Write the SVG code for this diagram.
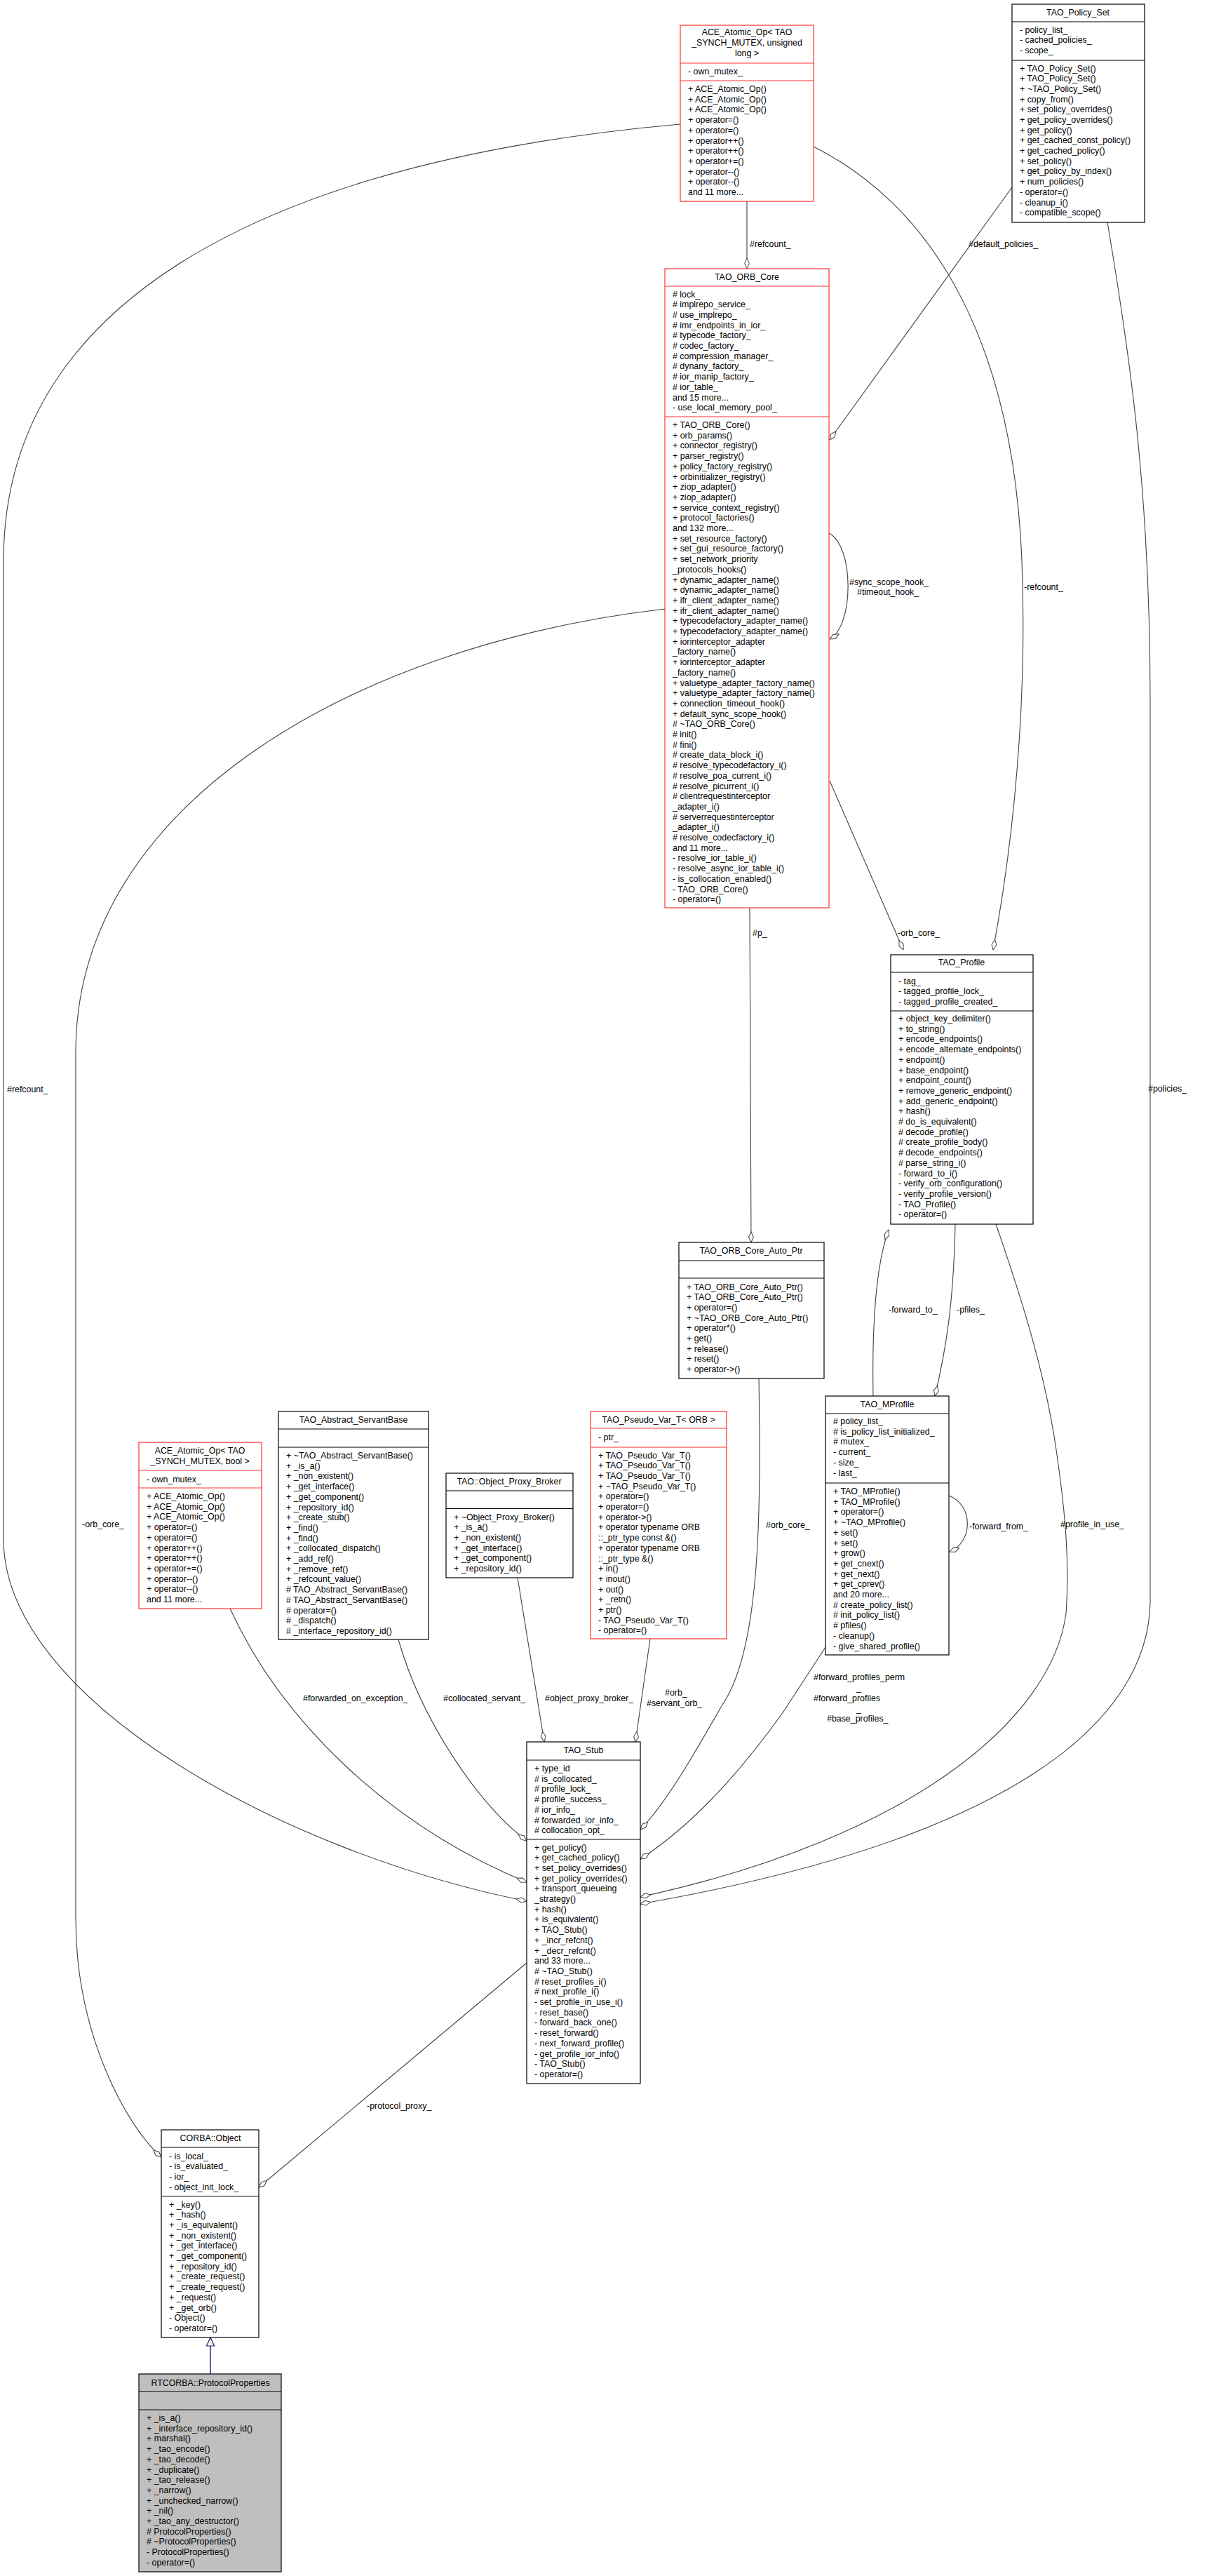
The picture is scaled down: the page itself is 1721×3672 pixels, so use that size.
<svg xmlns="http://www.w3.org/2000/svg" width="1721" height="3672" viewBox="0 0 1721 3672">
<defs>
<style>
text{font-family:"Liberation Sans",Arial,sans-serif;font-size:12.4px;fill:#000}
.t{text-anchor:middle}
.box{fill:#fff;stroke:#000;stroke-width:1.2}
.red{fill:#fff;stroke:#ff3030;stroke-width:1.2}
.sel{fill:#bfbfbf;stroke:#000;stroke-width:1.2}
.sk{stroke:#000;stroke-width:1.2}
.skr{stroke:#ff3030;stroke-width:1.2}
.c{fill:none;stroke:#404040;stroke-width:1.1}
</style>
<marker id="dia" viewBox="0 0 16 8" refX="15.5" refY="4" markerWidth="16" markerHeight="8" markerUnits="userSpaceOnUse" orient="auto"><path d="M0.5,4 L8,0.6 L15.5,4 L8,7.4 Z" fill="#fff" stroke="#404040" stroke-width="1"/></marker>
<marker id="tri" viewBox="0 0 14 14" refX="13" refY="7" markerWidth="14" markerHeight="14" markerUnits="userSpaceOnUse" orient="auto"><path d="M1,1.5 L13,7 L1,12.5 Z" fill="#fff" stroke="#191970" stroke-width="1.2"/></marker>
</defs>
<rect width="1721" height="3672" fill="#fff"/>

<g id="connectors">
<path class="c" marker-end="url(#dia)" d="M1065,287 L1065,383"/>
<path class="c" marker-end="url(#dia)" d="M1443,267 L1183,627"/>
<path class="c" marker-end="url(#dia)" d="M1182,760 C1218,778 1218,892 1183,911"/>
<path class="c" marker-end="url(#dia)" d="M1160,209 C1340,300 1445,500 1457,800 C1465,1000 1445,1200 1416,1354"/>
<path class="c" marker-end="url(#dia)" d="M1183,1113 L1288,1354"/>
<path class="c" marker-end="url(#dia)" d="M1069,1294 L1071,1771"/>
<path class="c" marker-end="url(#dia)" d="M1245,1990 C1243,1880 1250,1800 1267,1753"/>
<path class="c" marker-end="url(#dia)" d="M1362,1745 C1360,1850 1350,1920 1333,1990"/>
<path class="c" marker-end="url(#dia)" d="M1353,2132 C1388,2145 1388,2198 1354,2212"/>
<path class="c" marker-end="url(#dia)" d="M1420,1745 C1460,1860 1490,1960 1505,2060 C1520,2160 1525,2230 1520,2300 C1500,2450 1300,2620 913,2704"/>
<path class="c" marker-end="url(#dia)" d="M1579,317 C1610,500 1640,700 1640,1000 L1640,2280 C1640,2450 1450,2620 913,2714"/>
<path class="c" marker-end="url(#dia)" d="M1082,1965 C1085,2150 1085,2350 1030,2430 C990,2500 950,2570 913,2608"/>
<path class="c" marker-end="url(#dia)" d="M1177,2348 L1117,2440 C1060,2520 990,2600 913,2650"/>
<path class="c" marker-end="url(#dia)" d="M927,2336 L906,2483"/>
<path class="c" marker-end="url(#dia)" d="M738,2249 L776,2483"/>
<path class="c" marker-end="url(#dia)" d="M568,2337 C600,2450 680,2570 751,2624"/>
<path class="c" marker-end="url(#dia)" d="M328,2293 C400,2450 550,2600 751,2683"/>
<path class="c" marker-end="url(#dia)" d="M970,177 C600,210 5,330 5,800 L5,2194 C5,2420 400,2640 751,2710"/>
<path class="c" marker-end="url(#dia)" d="M948,868 C500,920 108,1150 108,1500 L108,2735 C108,2900 180,3030 230,3075"/>
<path class="c" marker-end="url(#dia)" d="M751,2798 L369,3118"/>
<path fill="none" stroke="#191970" stroke-width="1.4" marker-end="url(#tri)" d="M300,3384 L300,3332"/>
<text x="1069" y="352">#refcount_</text>
<text x="1381" y="352">#default_policies_</text>
<text x="1211" y="834">#sync_scope_hook_</text>
<text x="1222" y="848">#timeout_hook_</text>
<text x="1460" y="841">-refcount_</text>
<text x="1280" y="1334">-orb_core_</text>
<text x="1073" y="1334">#p_</text>
<text x="1267" y="1871">-forward_to_</text>
<text x="1364" y="1871">-pfiles_</text>
<text x="1382" y="2180">-forward_from_</text>
<text x="1512" y="2177">#profile_in_use_</text>
<text x="1637" y="1556">#policies_</text>
<text x="1092" y="2178">#orb_core_</text>
<text x="1160" y="2395">#forward_profiles_perm</text>
<text x="1221" y="2410">_</text>
<text x="1160" y="2425">#forward_profiles</text>
<text x="1221" y="2440">_</text>
<text x="1179" y="2454">#base_profiles_</text>
<text x="948" y="2417">#orb_</text>
<text x="922" y="2432">#servant_orb_</text>
<text x="432" y="2425">#forwarded_on_exception_</text>
<text x="632" y="2425">#collocated_servant_</text>
<text x="777" y="2425">#object_proxy_broker_</text>
<text x="10" y="1557">#refcount_</text>
<text x="117" y="2177">-orb_core_</text>
<text x="523" y="3006">-protocol_proxy_</text>
</g>

<g id="ace_ulong">
<rect class="red" x="970" y="36" width="190" height="251"/>
<line class="skr" x1="970" y1="90" x2="1160" y2="90"/><line class="skr" x1="970" y1="115" x2="1160" y2="115"/>
<text class="t" x="1065" y="50">ACE_Atomic_Op&lt; TAO</text>
<text class="t" x="1065" y="65">_SYNCH_MUTEX, unsigned</text>
<text class="t" x="1065" y="80">long &gt;</text>
<text x="981" y="106">- own_mutex_</text>
<text x="981" y="131">+ ACE_Atomic_Op()<tspan x="981" dy="14.7">+ ACE_Atomic_Op()</tspan><tspan x="981" dy="14.7">+ ACE_Atomic_Op()</tspan><tspan x="981" dy="14.7">+ operator=()</tspan><tspan x="981" dy="14.7">+ operator=()</tspan><tspan x="981" dy="14.7">+ operator++()</tspan><tspan x="981" dy="14.7">+ operator++()</tspan><tspan x="981" dy="14.7">+ operator+=()</tspan><tspan x="981" dy="14.7">+ operator--()</tspan><tspan x="981" dy="14.7">+ operator--()</tspan><tspan x="981" dy="14.7">and 11 more...</tspan></text>
</g>

<g id="policy_set">
<rect class="box" x="1443" y="6" width="189" height="311"/>
<line class="sk" x1="1443" y1="31" x2="1632" y2="31"/><line class="sk" x1="1443" y1="86" x2="1632" y2="86"/>
<text class="t" x="1537" y="22">TAO_Policy_Set</text>
<text x="1454" y="46.5">- policy_list_<tspan x="1454" dy="14.7">- cached_policies_</tspan><tspan x="1454" dy="14.7">- scope_</tspan></text>
<text x="1454" y="101.5">+ TAO_Policy_Set()<tspan x="1454" dy="14.7">+ TAO_Policy_Set()</tspan><tspan x="1454" dy="14.7">+ ~TAO_Policy_Set()</tspan><tspan x="1454" dy="14.7">+ copy_from()</tspan><tspan x="1454" dy="14.7">+ set_policy_overrides()</tspan><tspan x="1454" dy="14.7">+ get_policy_overrides()</tspan><tspan x="1454" dy="14.7">+ get_policy()</tspan><tspan x="1454" dy="14.7">+ get_cached_const_policy()</tspan><tspan x="1454" dy="14.7">+ get_cached_policy()</tspan><tspan x="1454" dy="14.7">+ set_policy()</tspan><tspan x="1454" dy="14.7">+ get_policy_by_index()</tspan><tspan x="1454" dy="14.7">+ num_policies()</tspan><tspan x="1454" dy="14.7">- operator=()</tspan><tspan x="1454" dy="14.7">- cleanup_i()</tspan><tspan x="1454" dy="14.7">- compatible_scope()</tspan></text>
</g>

<g id="orb_core">
<rect class="red" x="948" y="383" width="234" height="911"/>
<line class="skr" x1="948" y1="408" x2="1182" y2="408"/><line class="skr" x1="948" y1="594" x2="1182" y2="594"/>
<text class="t" x="1065" y="399">TAO_ORB_Core</text>
<text x="959" y="423.5"># lock_<tspan x="959" dy="14.7"># implrepo_service_</tspan><tspan x="959" dy="14.7"># use_implrepo_</tspan><tspan x="959" dy="14.7"># imr_endpoints_in_ior_</tspan><tspan x="959" dy="14.7"># typecode_factory_</tspan><tspan x="959" dy="14.7"># codec_factory_</tspan><tspan x="959" dy="14.7"># compression_manager_</tspan><tspan x="959" dy="14.7"># dynany_factory_</tspan><tspan x="959" dy="14.7"># ior_manip_factory_</tspan><tspan x="959" dy="14.7"># ior_table_</tspan><tspan x="959" dy="14.7">and 15 more...</tspan><tspan x="959" dy="14.7">- use_local_memory_pool_</tspan></text>
<text x="959" y="610">+ TAO_ORB_Core()<tspan x="959" dy="14.7">+ orb_params()</tspan><tspan x="959" dy="14.7">+ connector_registry()</tspan><tspan x="959" dy="14.7">+ parser_registry()</tspan><tspan x="959" dy="14.7">+ policy_factory_registry()</tspan><tspan x="959" dy="14.7">+ orbinitializer_registry()</tspan><tspan x="959" dy="14.7">+ ziop_adapter()</tspan><tspan x="959" dy="14.7">+ ziop_adapter()</tspan><tspan x="959" dy="14.7">+ service_context_registry()</tspan><tspan x="959" dy="14.7">+ protocol_factories()</tspan><tspan x="959" dy="14.7">and 132 more...</tspan><tspan x="959" dy="14.7">+ set_resource_factory()</tspan><tspan x="959" dy="14.7">+ set_gui_resource_factory()</tspan><tspan x="959" dy="14.7">+ set_network_priority</tspan><tspan x="959" dy="14.7">_protocols_hooks()</tspan><tspan x="959" dy="14.7">+ dynamic_adapter_name()</tspan><tspan x="959" dy="14.7">+ dynamic_adapter_name()</tspan><tspan x="959" dy="14.7">+ ifr_client_adapter_name()</tspan><tspan x="959" dy="14.7">+ ifr_client_adapter_name()</tspan><tspan x="959" dy="14.7">+ typecodefactory_adapter_name()</tspan><tspan x="959" dy="14.7">+ typecodefactory_adapter_name()</tspan><tspan x="959" dy="14.7">+ iorinterceptor_adapter</tspan><tspan x="959" dy="14.7">_factory_name()</tspan><tspan x="959" dy="14.7">+ iorinterceptor_adapter</tspan><tspan x="959" dy="14.7">_factory_name()</tspan><tspan x="959" dy="14.7">+ valuetype_adapter_factory_name()</tspan><tspan x="959" dy="14.7">+ valuetype_adapter_factory_name()</tspan><tspan x="959" dy="14.7">+ connection_timeout_hook()</tspan><tspan x="959" dy="14.7">+ default_sync_scope_hook()</tspan><tspan x="959" dy="14.7"># ~TAO_ORB_Core()</tspan><tspan x="959" dy="14.7"># init()</tspan><tspan x="959" dy="14.7"># fini()</tspan><tspan x="959" dy="14.7"># create_data_block_i()</tspan><tspan x="959" dy="14.7"># resolve_typecodefactory_i()</tspan><tspan x="959" dy="14.7"># resolve_poa_current_i()</tspan><tspan x="959" dy="14.7"># resolve_picurrent_i()</tspan><tspan x="959" dy="14.7"># clientrequestinterceptor</tspan><tspan x="959" dy="14.7">_adapter_i()</tspan><tspan x="959" dy="14.7"># serverrequestinterceptor</tspan><tspan x="959" dy="14.7">_adapter_i()</tspan><tspan x="959" dy="14.7"># resolve_codecfactory_i()</tspan><tspan x="959" dy="14.7">and 11 more...</tspan><tspan x="959" dy="14.7">- resolve_ior_table_i()</tspan><tspan x="959" dy="14.7">- resolve_async_ior_table_i()</tspan><tspan x="959" dy="14.7">- is_collocation_enabled()</tspan><tspan x="959" dy="14.7">- TAO_ORB_Core()</tspan><tspan x="959" dy="14.7">- operator=()</tspan></text>
</g>

<g id="tao_profile">
<rect class="box" x="1270" y="1361" width="203" height="384"/>
<line class="sk" x1="1270" y1="1386" x2="1473" y2="1386"/><line class="sk" x1="1270" y1="1441" x2="1473" y2="1441"/>
<text class="t" x="1371" y="1376">TAO_Profile</text>
<text x="1281" y="1402.5">- tag_<tspan x="1281" dy="14.7">- tagged_profile_lock_</tspan><tspan x="1281" dy="14.7">- tagged_profile_created_</tspan></text>
<text x="1281" y="1456">+ object_key_delimiter()<tspan x="1281" dy="14.7">+ to_string()</tspan><tspan x="1281" dy="14.7">+ encode_endpoints()</tspan><tspan x="1281" dy="14.7">+ encode_alternate_endpoints()</tspan><tspan x="1281" dy="14.7">+ endpoint()</tspan><tspan x="1281" dy="14.7">+ base_endpoint()</tspan><tspan x="1281" dy="14.7">+ endpoint_count()</tspan><tspan x="1281" dy="14.7">+ remove_generic_endpoint()</tspan><tspan x="1281" dy="14.7">+ add_generic_endpoint()</tspan><tspan x="1281" dy="14.7">+ hash()</tspan><tspan x="1281" dy="14.7"># do_is_equivalent()</tspan><tspan x="1281" dy="14.7"># decode_profile()</tspan><tspan x="1281" dy="14.7"># create_profile_body()</tspan><tspan x="1281" dy="14.7"># decode_endpoints()</tspan><tspan x="1281" dy="14.7"># parse_string_i()</tspan><tspan x="1281" dy="14.7">- forward_to_i()</tspan><tspan x="1281" dy="14.7">- verify_orb_configuration()</tspan><tspan x="1281" dy="14.7">- verify_profile_version()</tspan><tspan x="1281" dy="14.7">- TAO_Profile()</tspan><tspan x="1281" dy="14.7">- operator=()</tspan></text>
</g>

<g id="tao_mprofile">
<rect class="box" x="1177" y="1990" width="176" height="369"/>
<line class="sk" x1="1177" y1="2015" x2="1353" y2="2015"/><line class="sk" x1="1177" y1="2114" x2="1353" y2="2114"/>
<text class="t" x="1265" y="2006">TAO_MProfile</text>
<text x="1188" y="2030"># policy_list_<tspan x="1188" dy="14.7"># is_policy_list_initialized_</tspan><tspan x="1188" dy="14.7"># mutex_</tspan><tspan x="1188" dy="14.7">- current_</tspan><tspan x="1188" dy="14.7">- size_</tspan><tspan x="1188" dy="14.7">- last_</tspan></text>
<text x="1188" y="2130">+ TAO_MProfile()<tspan x="1188" dy="14.7">+ TAO_MProfile()</tspan><tspan x="1188" dy="14.7">+ operator=()</tspan><tspan x="1188" dy="14.7">+ ~TAO_MProfile()</tspan><tspan x="1188" dy="14.7">+ set()</tspan><tspan x="1188" dy="14.7">+ set()</tspan><tspan x="1188" dy="14.7">+ grow()</tspan><tspan x="1188" dy="14.7">+ get_cnext()</tspan><tspan x="1188" dy="14.7">+ get_next()</tspan><tspan x="1188" dy="14.7">+ get_cprev()</tspan><tspan x="1188" dy="14.7">and 20 more...</tspan><tspan x="1188" dy="14.7"># create_policy_list()</tspan><tspan x="1188" dy="14.7"># init_policy_list()</tspan><tspan x="1188" dy="14.7"># pfiles()</tspan><tspan x="1188" dy="14.7">- cleanup()</tspan><tspan x="1188" dy="14.7">- give_shared_profile()</tspan></text>
</g>

<g id="auto_ptr">
<rect class="box" x="968" y="1771" width="207" height="194"/>
<line class="sk" x1="968" y1="1797" x2="1175" y2="1797"/><line class="sk" x1="968" y1="1822" x2="1175" y2="1822"/>
<text class="t" x="1071" y="1786.5">TAO_ORB_Core_Auto_Ptr</text>
<text x="979" y="1838.5">+ TAO_ORB_Core_Auto_Ptr()<tspan x="979" dy="14.7">+ TAO_ORB_Core_Auto_Ptr()</tspan><tspan x="979" dy="14.7">+ operator=()</tspan><tspan x="979" dy="14.7">+ ~TAO_ORB_Core_Auto_Ptr()</tspan><tspan x="979" dy="14.7">+ operator*()</tspan><tspan x="979" dy="14.7">+ get()</tspan><tspan x="979" dy="14.7">+ release()</tspan><tspan x="979" dy="14.7">+ reset()</tspan><tspan x="979" dy="14.7">+ operator-&gt;()</tspan></text>
</g>

<g id="pseudo_var">
<rect class="red" x="842" y="2012" width="194" height="324"/>
<line class="skr" x1="842" y1="2036" x2="1036" y2="2036"/><line class="skr" x1="842" y1="2063" x2="1036" y2="2063"/>
<text class="t" x="939" y="2027.5">TAO_Pseudo_Var_T&lt; ORB &gt;</text>
<text x="853" y="2052.5">- ptr_</text>
<text x="853" y="2078.5">+ TAO_Pseudo_Var_T()<tspan x="853" dy="14.7">+ TAO_Pseudo_Var_T()</tspan><tspan x="853" dy="14.7">+ TAO_Pseudo_Var_T()</tspan><tspan x="853" dy="14.7">+ ~TAO_Pseudo_Var_T()</tspan><tspan x="853" dy="14.7">+ operator=()</tspan><tspan x="853" dy="14.7">+ operator=()</tspan><tspan x="853" dy="14.7">+ operator-&gt;()</tspan><tspan x="853" dy="14.7">+ operator typename ORB</tspan><tspan x="853" dy="14.7">::_ptr_type const &amp;()</tspan><tspan x="853" dy="14.7">+ operator typename ORB</tspan><tspan x="853" dy="14.7">::_ptr_type &amp;()</tspan><tspan x="853" dy="14.7">+ in()</tspan><tspan x="853" dy="14.7">+ inout()</tspan><tspan x="853" dy="14.7">+ out()</tspan><tspan x="853" dy="14.7">+ _retn()</tspan><tspan x="853" dy="14.7">+ ptr()</tspan><tspan x="853" dy="14.7">- TAO_Pseudo_Var_T()</tspan><tspan x="853" dy="14.7">- operator=()</tspan></text>
</g>

<g id="servant_base">
<rect class="box" x="397" y="2012" width="214" height="325"/>
<line class="sk" x1="397" y1="2037" x2="611" y2="2037"/><line class="sk" x1="397" y1="2063" x2="611" y2="2063"/>
<text class="t" x="504" y="2027.5">TAO_Abstract_ServantBase</text>
<text x="408" y="2079">+ ~TAO_Abstract_ServantBase()<tspan x="408" dy="14.7">+ _is_a()</tspan><tspan x="408" dy="14.7">+ _non_existent()</tspan><tspan x="408" dy="14.7">+ _get_interface()</tspan><tspan x="408" dy="14.7">+ _get_component()</tspan><tspan x="408" dy="14.7">+ _repository_id()</tspan><tspan x="408" dy="14.7">+ _create_stub()</tspan><tspan x="408" dy="14.7">+ _find()</tspan><tspan x="408" dy="14.7">+ _find()</tspan><tspan x="408" dy="14.7">+ _collocated_dispatch()</tspan><tspan x="408" dy="14.7">+ _add_ref()</tspan><tspan x="408" dy="14.7">+ _remove_ref()</tspan><tspan x="408" dy="14.7">+ _refcount_value()</tspan><tspan x="408" dy="14.7"># TAO_Abstract_ServantBase()</tspan><tspan x="408" dy="14.7"># TAO_Abstract_ServantBase()</tspan><tspan x="408" dy="14.7"># operator=()</tspan><tspan x="408" dy="14.7"># _dispatch()</tspan><tspan x="408" dy="14.7"># _interface_repository_id()</tspan></text>
</g>

<g id="proxy_broker">
<rect class="box" x="636" y="2100" width="181" height="149"/>
<line class="sk" x1="636" y1="2125" x2="817" y2="2125"/><line class="sk" x1="636" y1="2150.5" x2="817" y2="2150.5"/>
<text class="t" x="726" y="2116">TAO::Object_Proxy_Broker</text>
<text x="647" y="2166.5">+ ~Object_Proxy_Broker()<tspan x="647" dy="14.7">+ _is_a()</tspan><tspan x="647" dy="14.7">+ _non_existent()</tspan><tspan x="647" dy="14.7">+ _get_interface()</tspan><tspan x="647" dy="14.7">+ _get_component()</tspan><tspan x="647" dy="14.7">+ _repository_id()</tspan></text>
</g>

<g id="ace_bool">
<rect class="red" x="198" y="2056" width="175" height="237"/>
<line class="skr" x1="198" y1="2096" x2="373" y2="2096"/><line class="skr" x1="198" y1="2121" x2="373" y2="2121"/>
<text class="t" x="285" y="2072">ACE_Atomic_Op&lt; TAO</text>
<text class="t" x="285" y="2087">_SYNCH_MUTEX, bool &gt;</text>
<text x="209" y="2112.5">- own_mutex_</text>
<text x="209" y="2137">+ ACE_Atomic_Op()<tspan x="209" dy="14.7">+ ACE_Atomic_Op()</tspan><tspan x="209" dy="14.7">+ ACE_Atomic_Op()</tspan><tspan x="209" dy="14.7">+ operator=()</tspan><tspan x="209" dy="14.7">+ operator=()</tspan><tspan x="209" dy="14.7">+ operator++()</tspan><tspan x="209" dy="14.7">+ operator++()</tspan><tspan x="209" dy="14.7">+ operator+=()</tspan><tspan x="209" dy="14.7">+ operator--()</tspan><tspan x="209" dy="14.7">+ operator--()</tspan><tspan x="209" dy="14.7">and 11 more...</tspan></text>
</g>

<g id="tao_stub">
<rect class="box" x="751" y="2483" width="162" height="487"/>
<line class="sk" x1="751" y1="2509" x2="913" y2="2509"/><line class="sk" x1="751" y1="2622" x2="913" y2="2622"/>
<text class="t" x="832" y="2499">TAO_Stub</text>
<text x="762" y="2525">+ type_id<tspan x="762" dy="14.7"># is_collocated_</tspan><tspan x="762" dy="14.7"># profile_lock_</tspan><tspan x="762" dy="14.7"># profile_success_</tspan><tspan x="762" dy="14.7"># ior_info_</tspan><tspan x="762" dy="14.7"># forwarded_ior_info_</tspan><tspan x="762" dy="14.7"># collocation_opt_</tspan></text>
<text x="762" y="2637.5">+ get_policy()<tspan x="762" dy="14.7">+ get_cached_policy()</tspan><tspan x="762" dy="14.7">+ set_policy_overrides()</tspan><tspan x="762" dy="14.7">+ get_policy_overrides()</tspan><tspan x="762" dy="14.7">+ transport_queueing</tspan><tspan x="762" dy="14.7">_strategy()</tspan><tspan x="762" dy="14.7">+ hash()</tspan><tspan x="762" dy="14.7">+ is_equivalent()</tspan><tspan x="762" dy="14.7">+ TAO_Stub()</tspan><tspan x="762" dy="14.7">+ _incr_refcnt()</tspan><tspan x="762" dy="14.7">+ _decr_refcnt()</tspan><tspan x="762" dy="14.7">and 33 more...</tspan><tspan x="762" dy="14.7"># ~TAO_Stub()</tspan><tspan x="762" dy="14.7"># reset_profiles_i()</tspan><tspan x="762" dy="14.7"># next_profile_i()</tspan><tspan x="762" dy="14.7">- set_profile_in_use_i()</tspan><tspan x="762" dy="14.7">- reset_base()</tspan><tspan x="762" dy="14.7">- forward_back_one()</tspan><tspan x="762" dy="14.7">- reset_forward()</tspan><tspan x="762" dy="14.7">- next_forward_profile()</tspan><tspan x="762" dy="14.7">- get_profile_ior_info()</tspan><tspan x="762" dy="14.7">- TAO_Stub()</tspan><tspan x="762" dy="14.7">- operator=()</tspan></text>
</g>

<g id="corba_object">
<rect class="box" x="230" y="3036" width="139" height="296"/>
<line class="sk" x1="230" y1="3061" x2="369" y2="3061"/><line class="sk" x1="230" y1="3130.5" x2="369" y2="3130.5"/>
<text class="t" x="300" y="3051.5">CORBA::Object</text>
<text x="241" y="3077.5">- is_local_<tspan x="241" dy="14.7">- is_evaluated_</tspan><tspan x="241" dy="14.7">- ior_</tspan><tspan x="241" dy="14.7">- object_init_lock_</tspan></text>
<text x="241" y="3146.5">+ _key()<tspan x="241" dy="14.7">+ _hash()</tspan><tspan x="241" dy="14.7">+ _is_equivalent()</tspan><tspan x="241" dy="14.7">+ _non_existent()</tspan><tspan x="241" dy="14.7">+ _get_interface()</tspan><tspan x="241" dy="14.7">+ _get_component()</tspan><tspan x="241" dy="14.7">+ _repository_id()</tspan><tspan x="241" dy="14.7">+ _create_request()</tspan><tspan x="241" dy="14.7">+ _create_request()</tspan><tspan x="241" dy="14.7">+ _request()</tspan><tspan x="241" dy="14.7">+ _get_orb()</tspan><tspan x="241" dy="14.7">- Object()</tspan><tspan x="241" dy="14.7">- operator=()</tspan></text>
</g>

<g id="protocol_properties">
<rect class="sel" x="198" y="3384" width="203" height="282"/>
<line class="sk" x1="198" y1="3409" x2="401" y2="3409"/><line class="sk" x1="198" y1="3435" x2="401" y2="3435"/>
<text class="t" x="300" y="3400.5">RTCORBA::ProtocolProperties</text>
<text x="209" y="3451">+ _is_a()<tspan x="209" dy="14.7">+ _interface_repository_id()</tspan><tspan x="209" dy="14.7">+ marshal()</tspan><tspan x="209" dy="14.7">+ _tao_encode()</tspan><tspan x="209" dy="14.7">+ _tao_decode()</tspan><tspan x="209" dy="14.7">+ _duplicate()</tspan><tspan x="209" dy="14.7">+ _tao_release()</tspan><tspan x="209" dy="14.7">+ _narrow()</tspan><tspan x="209" dy="14.7">+ _unchecked_narrow()</tspan><tspan x="209" dy="14.7">+ _nil()</tspan><tspan x="209" dy="14.7">+ _tao_any_destructor()</tspan><tspan x="209" dy="14.7"># ProtocolProperties()</tspan><tspan x="209" dy="14.7"># ~ProtocolProperties()</tspan><tspan x="209" dy="14.7">- ProtocolProperties()</tspan><tspan x="209" dy="14.7">- operator=()</tspan></text>
</g>
</svg>
